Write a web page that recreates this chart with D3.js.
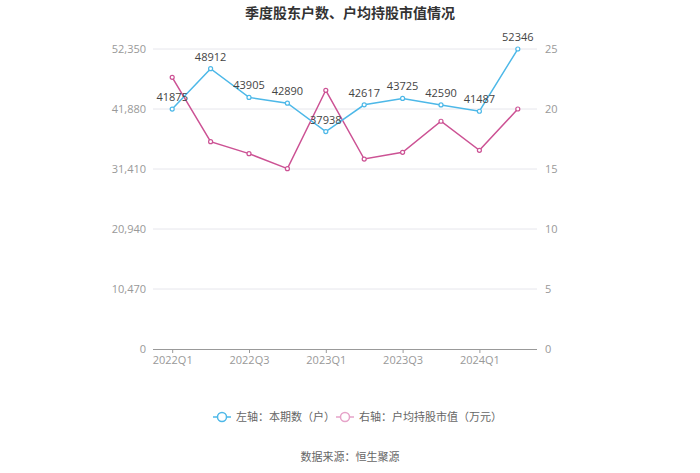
<!DOCTYPE html>
<html><head><meta charset="utf-8">
<script src="https://cdn.jsdelivr.net/npm/d3@7/dist/d3.min.js"></script>
<style>body{margin:0;background:#fff;font-family:"Noto Sans CJK SC","Noto Sans",sans-serif;}</style>
</head><body><svg id="c" width="700" height="473"></svg>
<script>
const categories = ["2022Q1","2022Q2","2022Q3","2022Q4","2023Q1","2023Q2","2023Q3","2023Q4","2024Q1","2024Q2"];
const holders = [41875,48912,43905,42890,37938,42617,43725,42590,41487,52346];
const avgValue = [22.64,17.28,16.28,15.03,21.56,15.83,16.39,18.98,16.56,20.0];
const leftTicks = [0,10470,20940,31410,41880,52350];
const rightTicks = [0,5,10,15,20,25];
const shownLabels = ["2022Q1","2022Q3","2023Q1","2023Q3","2024Q1"];

const svg = d3.select("#c");
const L = 153, R = 537, T = 49, B = 349;
const blue = "#4db8e8", pink = "#cc5294";
const x = d3.scalePoint().domain(categories).range([L, R]).padding(0.5);
const yL = d3.scaleLinear().domain([0, 52350]).range([B, T]);
const yR = d3.scaleLinear().domain([0, 25]).range([B, T]);

svg.append("text").attr("x", 350).attr("y", 18).attr("text-anchor", "middle")
  .attr("font-size", 14).attr("font-weight", "bold").attr("fill", "#333")
  .text("季度股东户数、户均持股市值情况");

// grid
svg.append("g").selectAll("line").data(leftTicks.slice(1)).join("line")
  .attr("x1", L).attr("x2", R).attr("y1", d => yL(d)).attr("y2", d => yL(d))
  .attr("stroke", "#e6e6ec").attr("stroke-width", 1);

// left axis labels
const gl = svg.append("g").attr("transform", `translate(${L},0)`)
  .call(d3.axisLeft(yL).tickValues(leftTicks).tickSize(0).tickPadding(7).tickFormat(d3.format(",")));
gl.select(".domain").remove();
gl.selectAll("text").attr("fill", "#999").attr("font-size", 11).attr("font-family", "'Open Sans','Noto Sans',sans-serif");

const gr = svg.append("g").attr("transform", `translate(${R},0)`)
  .call(d3.axisRight(yR).tickValues(rightTicks).tickSize(0).tickPadding(8));
gr.select(".domain").remove();
gr.selectAll("text").attr("fill", "#999").attr("font-size", 11).attr("font-family", "'Open Sans','Noto Sans',sans-serif");

// x axis
const gx = svg.append("g").attr("transform", `translate(0,${B})`)
  .call(d3.axisBottom(x).tickValues(shownLabels).tickSize(4).tickPadding(3));
gx.select(".domain").attr("stroke", "#999").attr("d", `M${L},0.5H${R}`);
gx.selectAll("line").attr("stroke", "#999");
gx.selectAll("text").attr("fill", "#999").attr("font-size", 11).attr("font-family", "'Open Sans','Noto Sans',sans-serif");

function series(vals, y, color) {
  const line = d3.line().x((d, i) => x(categories[i])).y(d => y(d));
  svg.append("path").datum(vals).attr("d", line).attr("fill", "none")
    .attr("stroke", color).attr("stroke-width", 1.5);
  svg.append("g").selectAll("circle").data(vals).join("circle")
    .attr("cx", (d, i) => x(categories[i])).attr("cy", d => y(d)).attr("r", 2)
    .attr("fill", "#fff").attr("stroke", color).attr("stroke-width", 1.2);
}
series(avgValue, yR, pink);
series(holders, yL, blue);

svg.append("g").selectAll("text").data(holders).join("text")
  .attr("x", (d, i) => x(categories[i])).attr("y", d => yL(d) - 8)
  .attr("text-anchor", "middle").attr("font-size", 11).attr("fill", "#444")
  .attr("font-family", "'Open Sans','Noto Sans',sans-serif")
  .text(d => d);

// legend
function legendItem(cx, color, label) {
  const g = svg.append("g");
  g.append("line").attr("x1", cx - 9).attr("x2", cx + 9).attr("y1", 417).attr("y2", 417)
    .attr("stroke", color).attr("stroke-width", 1.5);
  g.append("circle").attr("cx", cx).attr("cy", 417).attr("r", 4.5).attr("fill", "#fff")
    .attr("stroke", color).attr("stroke-width", 1.5);
  g.append("text").attr("x", cx + 14).attr("y", 421).attr("font-size", 11).attr("fill", "#666").text(label);
}
legendItem(222, blue, "左轴：本期数（户）");
legendItem(345, "#e6a3c9", "右轴：户均持股市值（万元）");

svg.append("text").attr("x", 350).attr("y", 461).attr("text-anchor", "middle")
  .attr("font-size", 11).attr("fill", "#666").text("数据来源：恒生聚源");
</script></body></html>
